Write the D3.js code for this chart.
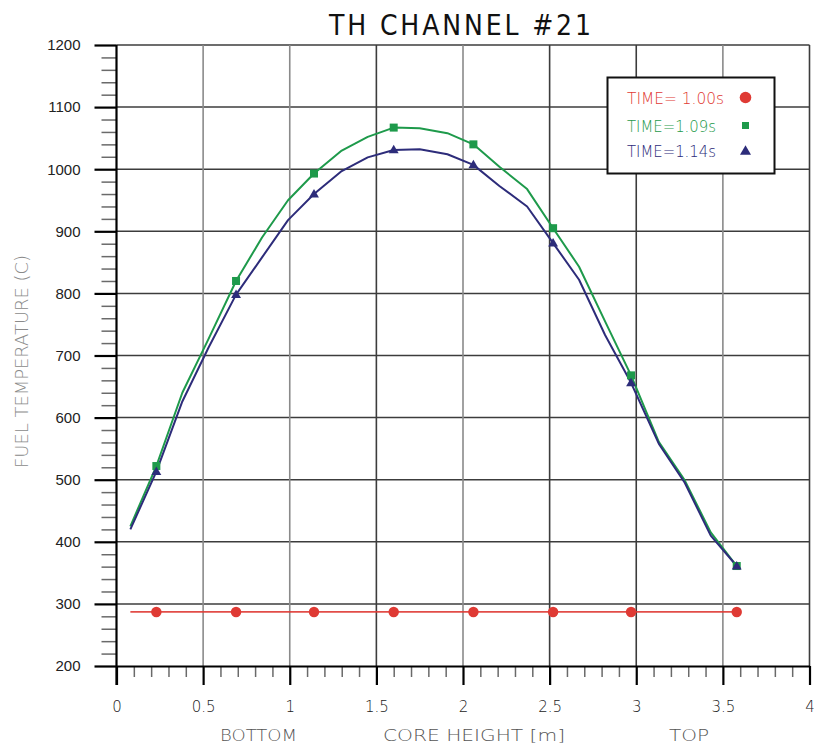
<!DOCTYPE html>
<html>
<head>
<meta charset="utf-8">
<script src="https://cdn.jsdelivr.net/npm/d3@7"></script>
<style>
  html, body { margin: 0; padding: 0; background: #fff; }
  svg { display: block; }
  .stroke-font { font-family: "DejaVu Sans", sans-serif; font-stretch: condensed; font-weight: 200; }
</style>
</head>
<body>
<svg id="chart" width="814" height="747"></svg>
<script>
// Axial positions of the channel nodes (m)
const heights = [0.08, 0.23, 0.38, 0.53, 0.69, 0.84, 0.99, 1.14, 1.30, 1.45, 1.60, 1.75,
                 1.91, 2.06, 2.21, 2.37, 2.52, 2.67, 2.82, 2.97, 3.13, 3.28, 3.43, 3.58];

// Fuel temperature (C) at each node, per time step
const temp100 = [287, 287, 287, 287, 287, 287, 287, 287, 287, 287, 287, 287,
                 287, 287, 287, 287, 287, 287, 287, 287, 287, 287, 287, 287];
const temp109 = [425, 522, 640, 726, 820, 890, 950, 993, 1030, 1052, 1067, 1066,
                 1058, 1040, 1004, 968, 905, 843, 755, 668, 561, 499, 415, 361];
const temp114 = [420, 513, 626, 712, 798, 858, 918, 960, 997, 1019, 1031, 1032,
                 1024, 1007, 973, 940, 881, 822, 733, 656, 558, 495, 410, 361];

// Nodes that carry a symbol
const markerNodes = [1, 4, 7, 10, 13, 16, 19, 23];

const seriesNames = ["TIME= 1.00s", "TIME=1.09s", "TIME=1.14s"];
const seriesColors = ["#df3a34", "#1e9a4b", "#2d2c7a"];
const seriesShapes = ["circle", "square", "triangle"];

const xTicks = [0, 0.5, 1, 1.5, 2, 2.5, 3, 3.5, 4];
const xTickLabels = ["0", "0.5", "1", "1.5", "2", "2.5", "3", "3.5", "4"];
const yTicks = [200, 300, 400, 500, 600, 700, 800, 900, 1000, 1100, 1200];

const title = "TH CHANNEL #21";
const yTitle = "FUEL TEMPERATURE (C)";
const xTitles = ["BOTTOM", "CORE HEIGHT [m]", "TOP"];

const svg = d3.select("#chart");
const x = d3.scaleLinear().domain([0, 4]).range([116.5, 809.5]);
const y = d3.scaleLinear().domain([200, 1200]).range([666, 45]);

// Grid
const grid = svg.append("g");
const darkV = new Set([1.5, 2.5, 3, 4]);
grid.selectAll("line.h").data(yTicks.slice(1)).join("line")
  .attr("x1", x(0)).attr("x2", x(4))
  .attr("y1", d => y(d)).attr("y2", d => y(d))
  .attr("stroke", "#3c3c3c").attr("stroke-width", 1.5);
grid.selectAll("line.v").data(xTicks.slice(1)).join("line")
  .attr("y1", y(200)).attr("y2", y(1200))
  .attr("x1", d => x(d)).attr("x2", d => x(d))
  .attr("stroke", d => darkV.has(d) ? "#3c3c3c" : "#8a8a8a").attr("stroke-width", 1.6);

// Minor ticks
const yMinor = d3.range(220, 1200, 20).filter(v => v % 100 !== 0);
const xMinor = d3.range(1, 40).map(i => i / 10).filter(v => Math.round(v * 10) % 5 !== 0);

const yMinorAxis = svg.append("g").attr("transform", `translate(${x(0)},0)`)
  .call(d3.axisLeft(y).tickValues(yMinor).tickSize(15).tickFormat(""));
yMinorAxis.select(".domain").remove();
yMinorAxis.selectAll("line").attr("stroke", "#6a6a6a").attr("stroke-width", 1.5);

const xMinorAxis = svg.append("g").attr("transform", `translate(0,${y(200)})`)
  .call(d3.axisBottom(x).tickValues(xMinor).tickSize(11).tickFormat(""));
xMinorAxis.select(".domain").remove();
xMinorAxis.selectAll("line").attr("stroke", "#6a6a6a").attr("stroke-width", 1.5);

// Major axes
const yAxis = svg.append("g").attr("transform", `translate(${x(0)},0)`)
  .call(d3.axisLeft(y).tickValues(yTicks).tickSize(22).tickPadding(14)
    .tickFormat(d3.format("d")).tickSizeOuter(0));
yAxis.select(".domain").attr("stroke", "#000").attr("stroke-width", 2.2)
  .attr("d", `M0,${y(1200)}V${y(200) + 19}`);
yAxis.selectAll(".tick line").attr("stroke", "#000").attr("stroke-width", 2.2);
yAxis.selectAll(".tick text")
  .attr("font-family", "'Liberation Sans', Arial, sans-serif")
  .attr("font-size", 15).attr("fill", "#222");

const xAxis = svg.append("g").attr("transform", `translate(0,${y(200)})`)
  .call(d3.axisBottom(x).tickValues(xTicks).tickSize(19).tickPadding(16)
    .tickFormat((d, i) => xTickLabels[i]).tickSizeOuter(0));
xAxis.select(".domain").attr("stroke", "#000").attr("stroke-width", 2.2);
xAxis.selectAll(".tick line").attr("stroke", "#000").attr("stroke-width", 2.2);
xAxis.selectAll(".tick text").attr("class", "stroke-font")
  .attr("font-size", 15).attr("fill", "#222");

// Curves
const seriesData = [temp100, temp109, temp114];
const line = d3.line().x((d, i) => x(heights[i])).y(d => y(d));
const curves = svg.append("g");
seriesData.forEach((vals, s) => {
  curves.append("path").datum(vals).attr("d", line)
    .attr("fill", "none").attr("stroke", seriesColors[s])
    .attr("stroke-width", s === 0 ? 1.7 : 2).attr("stroke-linejoin", "round")
    .attr("opacity", s === 0 ? 0.9 : 1);
});

function drawSymbol(g, shape, cx, cy, color, size) {
  if (shape === "circle") {
    g.append("circle").attr("cx", cx).attr("cy", cy).attr("r", size * 0.58).attr("fill", color);
  } else if (shape === "square") {
    g.append("rect").attr("x", cx - size / 2).attr("y", cy - size / 2)
      .attr("width", size).attr("height", size).attr("fill", color);
  } else {
    const h = size * 0.95;
    g.append("path")
      .attr("d", `M${cx},${cy - h * 0.6}L${cx + size * 0.55},${cy + h * 0.4}L${cx - size * 0.55},${cy + h * 0.4}Z`)
      .attr("fill", color);
  }
}

const marks = svg.append("g");
seriesData.forEach((vals, s) => {
  markerNodes.forEach(i => {
    drawSymbol(marks, seriesShapes[s], x(heights[i]), y(vals[i]), seriesColors[s],
      s === 0 ? 9 : (s === 1 ? 8 : 9));
  });
});

// Legend
const legend = svg.append("g");
legend.append("rect").attr("x", 607.5).attr("y", 77.5).attr("width", 167).attr("height", 96)
  .attr("fill", "#fff").attr("stroke", "#111").attr("stroke-width", 2);
const legendRows = [103.5, 131.5, 157];
const legendWidths = [97, 89, 89];
seriesNames.forEach((name, s) => {
  legend.append("text").attr("class", "stroke-font")
    .attr("x", 627).attr("y", legendRows[s])
    .attr("font-size", 16).attr("fill", seriesColors[s])
    .attr("textLength", legendWidths[s]).attr("lengthAdjust", "spacingAndGlyphs")
    .text(name);
  drawSymbol(legend, seriesShapes[s], 745.5, legendRows[s] - 6, seriesColors[s], s === 0 ? 10 : (s === 1 ? 7 : 10));
});

// Titles
svg.append("text").attr("class", "stroke-font")
  .attr("x", 329).attr("y", 35).attr("font-size", 28).attr("fill", "#111")
  .attr("textLength", 262).attr("lengthAdjust", "spacing")
  .style("font-weight", 400)
  .text(title);

svg.append("text").attr("class", "stroke-font")
  .attr("transform", "translate(28,468) rotate(-90)")
  .attr("font-size", 17).attr("fill", "#8a8a8a")
  .attr("textLength", 213).attr("lengthAdjust", "spacingAndGlyphs")
  .text(yTitle);

const xTitleSpec = [[220, 77], [383, 182], [669, 40]];
xTitles.forEach((t, i) => {
  svg.append("text").attr("class", "stroke-font")
    .attr("x", xTitleSpec[i][0]).attr("y", 741)
    .attr("font-size", 16).attr("fill", "#555")
    .attr("textLength", xTitleSpec[i][1]).attr("lengthAdjust", "spacingAndGlyphs")
    .text(t);
});
</script>
</body>
</html>
